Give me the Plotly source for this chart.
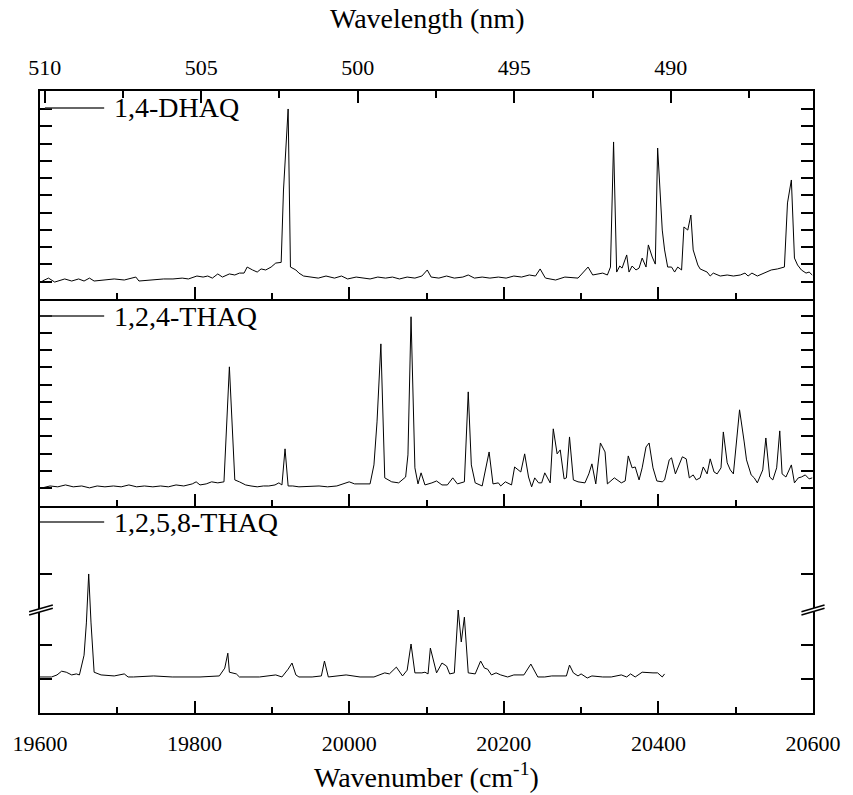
import plotly.graph_objects as go

# ---- 1,4-DHAQ spectrum (wavenumber in cm-1, intensity in arb. units) ----
dhaq14_wn = [19603, 19611, 19619, 19632, 19641, 19650, 19657, 19664, 19670, 19683,
             19696, 19709, 19724, 19728, 19743, 19760, 19772, 19784, 19792, 19803,
             19811, 19817, 19823, 19830, 19836, 19845, 19852, 19858, 19864, 19868,
             19875, 19881, 19886, 19892, 19899, 19905, 19912, 19915, 19921, 19924,
             19931, 19935, 19941, 19950, 19960, 19970, 19981, 19990, 19998, 20009,
             20018, 20027, 20037, 20047, 20056, 20065, 20075, 20085, 20094, 20101,
             20106, 20116, 20126, 20136, 20147, 20154, 20162, 20172, 20182, 20193,
             20203, 20213, 20223, 20233, 20241, 20247, 20253, 20254, 20267, 20279,
             20296, 20309, 20315, 20328, 20334, 20338, 20342, 20346, 20350, 20353,
             20359, 20362, 20366, 20371, 20375, 20379, 20384, 20387, 20392, 20396,
             20399, 20405, 20408, 20412, 20417, 20421, 20425, 20430, 20433, 20438,
             20442, 20445, 20451, 20454, 20463, 20467, 20471, 20480, 20489, 20497,
             20506, 20512, 20516, 20521, 20528, 20537, 20546, 20554, 20563, 20567,
             20572, 20576, 20580, 20585, 20591, 20595, 20599]
dhaq14_int = [0.04, 0.21, -0.02, 0.16, 0.04, 0.16, 0.04, 0.21, 0.04, 0.10,
              0.16, 0.10, 0.27, 0.04, 0.10, 0.16, 0.16, 0.21, 0.16, 0.33,
              0.27, 0.33, 0.21, 0.45, 0.27, 0.45, 0.39, 0.50, 0.50, 0.85,
              0.68, 0.56, 0.74, 0.68, 0.85, 1.08, 1.12, 5.31, 10.0, 0.85,
              0.68, 0.50, 0.33, 0.27, 0.21, 0.33, 0.21, 0.33, 0.16, 0.27,
              0.21, 0.16, 0.27, 0.21, 0.27, 0.16, 0.27, 0.21, 0.33, 0.68,
              0.27, 0.21, 0.33, 0.21, 0.27, 0.39, 0.21, 0.27, 0.21, 0.27,
              0.21, 0.33, 0.27, 0.39, 0.33, 0.74, 0.27, 0.21, 0.10, 0.27,
              0.21, 0.85, 0.39, 0.50, 0.39, 0.85, 8.09, 0.56, 0.91, 0.79,
              1.55, 0.56, 0.91, 0.68, 0.79, 1.37, 0.85, 2.13, 1.43, 1.02,
              7.74, 2.99, 1.84, 0.85, 0.85, 0.56, 0.85, 0.68, 3.17, 2.99,
              3.86, 1.84, 0.97, 0.74, 0.56, 0.33, 0.50, 0.33, 0.39, 0.33,
              0.39, 0.50, 0.33, 0.50, 0.33, 0.50, 0.68, 0.74, 0.85, 4.56,
              5.89, 1.37, 0.97, 0.68, 0.50, 0.56, 0.39]

# ---- 1,2,4-THAQ spectrum ----
thaq124_wn = [19603, 19613, 19623, 19633, 19643, 19654, 19664, 19674, 19684, 19695,
              19705, 19715, 19725, 19735, 19746, 19756, 19766, 19776, 19786, 19797,
              19802, 19807, 19815, 19822, 19830, 19838, 19845, 19852, 19858, 19866,
              19873, 19881, 19889, 19896, 19904, 19909, 19913, 19917, 19921, 19927,
              19935, 19945, 19961, 19972, 19984, 20000, 20007, 20027, 20032, 20036,
              20041, 20046, 20055, 20064, 20073, 20076, 20080, 20085, 20089, 20093,
              20098, 20107, 20113, 20120, 20127, 20134, 20140, 20149, 20154, 20158,
              20163, 20172, 20181, 20186, 20193, 20196, 20202, 20210, 20214, 20222,
              20227, 20232, 20236, 20240, 20245, 20249, 20253, 20260, 20264, 20269,
              20273, 20278, 20281, 20285, 20290, 20296, 20305, 20310, 20314, 20319,
              20325, 20331, 20334, 20343, 20348, 20352, 20357, 20361, 20366, 20370,
              20375, 20379, 20384, 20388, 20393, 20398, 20405, 20408, 20414, 20417,
              20422, 20427, 20431, 20436, 20440, 20445, 20449, 20454, 20458, 20463,
              20467, 20472, 20476, 20481, 20484, 20489, 20493, 20497, 20502, 20505,
              20511, 20514, 20520, 20524, 20528, 20533, 20535, 20539, 20544, 20548,
              20553, 20557, 20560, 20565, 20572, 20576, 20581, 20585, 20590, 20595,
              20599]
thaq124_int = [0.02, 0.13, 0.08, 0.19, 0.08, 0.13, 0.02, 0.13, 0.08, 0.13,
               0.08, 0.19, 0.08, 0.13, 0.08, 0.13, 0.08, 0.19, 0.13, 0.25,
               0.37, 0.19, 0.25, 0.37, 0.31, 0.37, 7.03, 0.48, 0.37, 0.19,
               0.13, 0.08, 0.13, 0.13, 0.19, 0.31, 0.19, 2.28, 0.13, 0.13,
               0.08, 0.10, 0.13, 0.08, 0.13, 0.37, 0.25, 0.25, 1.35, 3.84,
               8.36, 0.60, 0.37, 0.31, 0.65, 1.93, 9.93, 1.18, 0.25, 0.89,
               0.19, 0.31, 0.42, 0.19, 0.19, 0.60, 0.25, 0.37, 5.58, 1.35,
               0.31, 0.13, 2.10, 0.25, 0.31, 0.13, 0.37, 0.19, 1.23, 0.94,
               1.99, 0.65, 0.08, 0.60, 0.31, 0.31, 0.89, 0.31, 3.44, 1.99,
               2.22, 0.54, 0.60, 2.97, 0.48, 0.37, 0.31, 0.83, 1.41, 0.25,
               2.62, 2.10, 0.25, 0.60, 0.42, 0.31, 0.42, 1.87, 1.18, 1.23,
               0.48, 1.18, 2.39, 2.62, 1.18, 0.42, 0.37, 0.48, 1.64, 1.76,
               0.83, 1.35, 1.82, 1.70, 0.60, 0.77, 0.48, 0.60, 1.23, 0.83,
               1.70, 0.94, 0.83, 1.18, 3.26, 1.47, 1.06, 0.83, 3.26, 4.54,
               2.68, 1.64, 0.77, 0.60, 0.31, 0.89, 1.06, 2.91, 0.65, 0.48,
               1.18, 3.32, 0.83, 0.65, 1.35, 0.31, 0.60, 0.65, 0.77, 0.54,
               0.60]

# ---- 1,2,5,8-THAQ spectrum ----
thaq1258_wn = [19596, 19615, 19622, 19628, 19634, 19641, 19647, 19651, 19657, 19660,
               19663, 19666, 19670, 19679, 19696, 19709, 19714, 19721, 19747, 19771,
               19807, 19832, 19839, 19843, 19845, 19854, 19858, 19884, 19905, 19913,
               19921, 19926, 19931, 19935, 19952, 19964, 19968, 19973, 19996, 20014,
               20032, 20046, 20052, 20061, 20069, 20075, 20080, 20085, 20094, 20098,
               20102, 20105, 20113, 20120, 20126, 20130, 20136, 20141, 20145, 20149,
               20154, 20163, 20170, 20175, 20179, 20184, 20190, 20196, 20205, 20213,
               20226, 20235, 20244, 20253, 20262, 20281, 20285, 20290, 20296, 20300,
               20308, 20314, 20328, 20339, 20352, 20359, 20364, 20370, 20379, 20387,
               20393, 20399, 20405, 20408]
thaq1258_int = [0.07, 0.07, 0.13, 0.24, 0.21, 0.13, 0.16, 0.13, 0.71, 1.66,
                3.10, 1.66, 0.21, 0.13, 0.10, 0.16, 0.07, 0.07, 0.10, 0.07,
                0.07, 0.10, 0.33, 0.77, 0.21, 0.16, 0.07, 0.07, 0.13, 0.07,
                0.30, 0.48, 0.13, 0.07, 0.07, 0.10, 0.54, 0.07, 0.13, 0.07,
                0.07, 0.19, 0.16, 0.36, 0.10, 0.27, 1.04, 0.19, 0.19, 0.21,
                0.16, 0.92, 0.19, 0.48, 0.39, 0.16, 0.19, 2.04, 1.10, 1.83,
                0.19, 0.16, 0.54, 0.33, 0.30, 0.13, 0.19, 0.13, 0.07, 0.13,
                0.13, 0.45, 0.07, 0.07, 0.10, 0.10, 0.42, 0.19, 0.10, 0.16,
                0.04, 0.10, 0.07, 0.07, 0.13, 0.07, 0.16, 0.07, 0.21, 0.19,
                0.19, 0.19, 0.07, 0.16]

series_names = ["1,4-DHAQ", "1,2,4-THAQ", "1,2,5,8-THAQ"]
wavenumber_ticks = [19600, 19800, 20000, 20200, 20400, 20600]
wavelength_ticks = [510, 505, 500, 495, 490]
title_bottom = "Wavenumber (cm<sup>-1</sup>)"
title_top = "Wavelength (nm)"

FONT = "'Liberation Serif', 'Times New Roman', Times, 'DejaVu Serif', serif"
INK = "black"

fig = go.Figure()

# one trace per panel: top (x3/y3), middle (x2/y2), bottom (x/y)
panel_axes = [("x3", "y3"), ("x2", "y2"), ("x", "y")]
panel_data = [(dhaq14_wn, dhaq14_int), (thaq124_wn, thaq124_int),
              (thaq1258_wn, thaq1258_int)]
for name, (xa, ya), (wn, inten) in zip(series_names, panel_axes, panel_data):
    fig.add_trace(go.Scatter(x=wn, y=inten, mode="lines", name=name,
                             xaxis=xa, yaxis=ya, showlegend=False,
                             line=dict(color=INK, width=1), hoverinfo="skip"))

# carrier trace so the top wavelength axis is drawn
fig.add_trace(go.Scatter(x=wavelength_ticks, y=[None] * len(wavelength_ticks),
                         xaxis="x4", yaxis="y3", mode="lines",
                         showlegend=False, hoverinfo="skip"))

W, H = 853, 795
ML, MR, MT, MB = 38, 32, 91, 82
PW, PH = W - ML - MR, H - MT - MB

def px_x(px):
    return (px - ML) / PW

def px_y(py):
    return (H - MB - py) / PH

d1 = 207 / PH
d2 = 414 / PH

def x_axis(anchor, mirror, **extra):
    ax = dict(range=[19600, 20600], anchor=anchor, domain=[0, 1],
              showline=True, linewidth=2, linecolor=INK, mirror=mirror,
              ticks="inside", ticklen=12, tickwidth=2, tickcolor=INK,
              tickmode="array", tickvals=wavenumber_ticks,
              ticktext=[str(v) for v in wavenumber_ticks],
              showgrid=False, zeroline=False,
              minor=dict(dtick=100, tick0=19600, ticks="inside", ticklen=6,
                         tickwidth=2, tickcolor=INK, showgrid=False))
    ax.update(extra)
    return ax

ycommon = dict(showline=True, linewidth=2, linecolor=INK, mirror="ticks",
               ticks="inside", ticklen=12, tickwidth=2, tickcolor=INK,
               showticklabels=False, showgrid=False, zeroline=False)

fig.update_layout(
    width=W, height=H, autosize=False,
    margin=dict(l=ML, r=MR, t=MT, b=MB),
    paper_bgcolor="white", plot_bgcolor="white",
    font=dict(family=FONT, color=INK, size=22),
    # lower panels share their top edge with the panel above, so only the
    # top panel draws a mirrored upper line
    xaxis=x_axis("y", False, showticklabels=True,
                 tickfont=dict(family=FONT, size=22), ticklabelstandoff=10),
    xaxis2=x_axis("y2", False, showticklabels=False),
    xaxis3=x_axis("y3", True, showticklabels=False),
    xaxis4=dict(overlaying="x3", side="top", anchor="y3",
                range=[510.148, 485.46], tickmode="array",
                tickvals=wavelength_ticks,
                ticktext=[str(v) for v in wavelength_ticks],
                ticks="inside", ticklen=12,
                tickwidth=2, tickcolor=INK, showline=True, linewidth=2,
                linecolor=INK, showgrid=False, zeroline=False,
                tickfont=dict(family=FONT, size=22), ticklabelstandoff=5,
                minor=dict(dtick=2.5, tick0=510, ticks="inside", ticklen=7,
                           tickwidth=2, tickcolor=INK, showgrid=False)),
    yaxis=dict(**ycommon, anchor="x", domain=[0, d1], range=[-0.99, 5.10],
               tickmode="array", tickvals=[0, 1, 3.1]),
    yaxis2=dict(**ycommon, anchor="x2", domain=[d1, d2], range=[-1.03, 10.96],
                tickmode="array", tickvals=list(range(11))),
    yaxis3=dict(**ycommon, anchor="x3", domain=[d2, 1], range=[-1.0, 11.04],
                tickmode="array", tickvals=list(range(11))),
)

shapes = []
annotations = []

# axis titles
annotations.append(dict(text=title_bottom, xref="paper", yref="paper",
                        x=0.5, y=px_y(795), xanchor="center", yanchor="bottom",
                        showarrow=False, font=dict(size=28, family=FONT, color=INK)))
annotations.append(dict(text=title_top, xref="paper", yref="paper",
                        x=0.5, y=px_y(36), xanchor="center", yanchor="bottom",
                        showarrow=False, font=dict(size=28, family=FONT, color=INK)))

# in-panel legend keys: short line plus label
legend_rows = [(43, 108), (38, 316), (38, 522)]
for name, (lx, ly) in zip(series_names, legend_rows):
    shapes.append(dict(type="line", xref="paper", yref="paper",
                       x0=px_x(lx), x1=px_x(103), y0=px_y(ly), y1=px_y(ly),
                       line=dict(color="#333333", width=1.5)))
    annotations.append(dict(text=name, xref="paper", yref="paper",
                            x=px_x(111), y=px_y(ly), xanchor="left",
                            yanchor="middle", showarrow=False,
                            font=dict(size=28, family=FONT, color=INK)))

# axis-break marks on both vertical axes of the bottom panel
for (xa, xb) in [(27, 51), (809.3, 832.7)]:
    ya_top, yb_top = 611.7, 605.0
    ya_bot, yb_bot = 615.0, 608.3
    path = "M {},{} L {},{} L {},{} L {},{} Z".format(
        px_x(xa), px_y(ya_top), px_x(xb), px_y(yb_top),
        px_x(xb), px_y(yb_bot), px_x(xa), px_y(ya_bot))
    shapes.append(dict(type="path", xref="paper", yref="paper", path=path,
                       fillcolor="white", line=dict(width=0)))
    for (y0, y1) in [(ya_top, yb_top), (ya_bot, yb_bot)]:
        shapes.append(dict(type="line", xref="paper", yref="paper",
                           x0=px_x(xa), x1=px_x(xb), y0=px_y(y0), y1=px_y(y1),
                           line=dict(color=INK, width=1.5)))

fig.update_layout(shapes=shapes, annotations=annotations)

fig.write_html("out.html")
